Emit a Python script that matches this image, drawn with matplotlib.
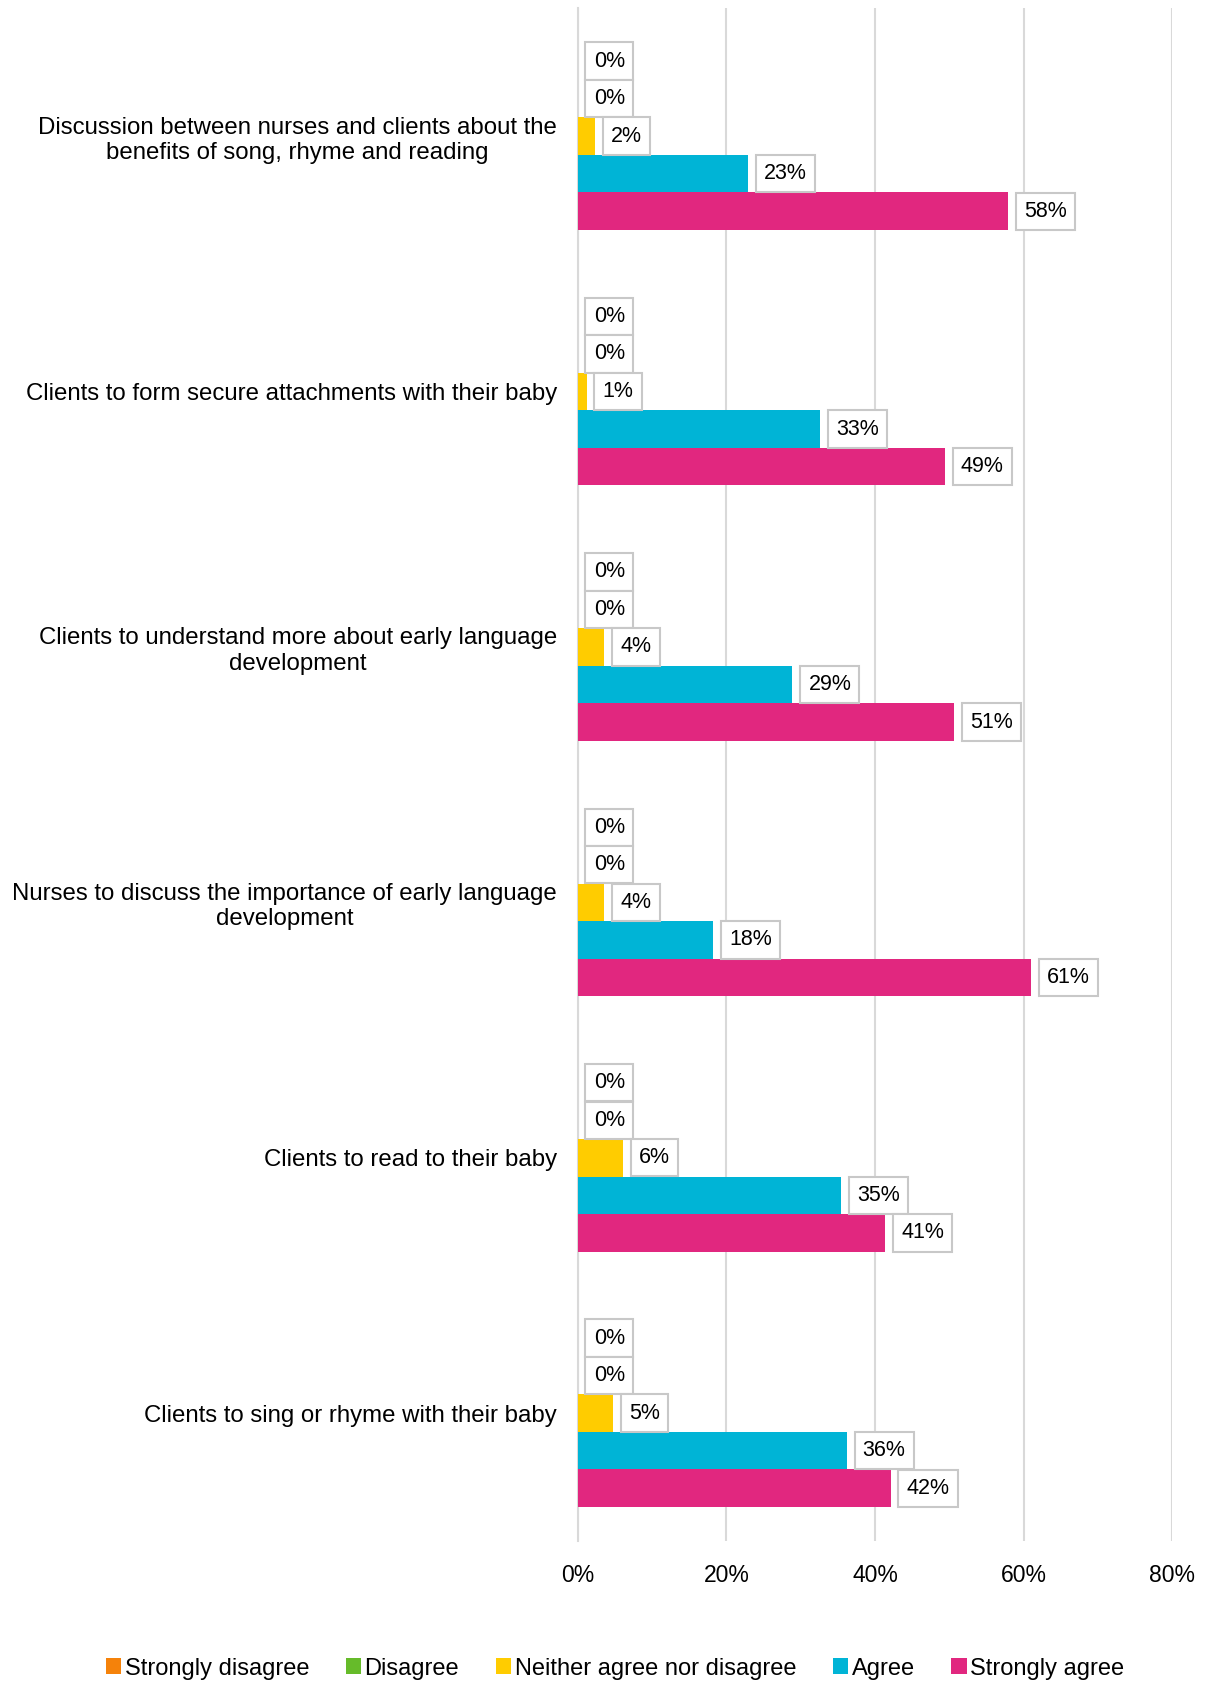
import numpy as np
import matplotlib.pyplot as plt

plt.rcParams['font.family'] = ['Liberation Sans', 'DejaVu Sans']

categories = [
    "Discussion between nurses and clients about the\nbenefits of song, rhyme and reading",
    "Clients to form secure attachments with their baby",
    "Clients to understand more about early language\ndevelopment",
    "Nurses to discuss the importance of early language\ndevelopment",
    "Clients to read to their baby",
    "Clients to sing or rhyme with their baby",
]
series = ["Strongly disagree", "Disagree", "Neither agree nor disagree", "Agree", "Strongly agree"]
colors = ["#F5820A", "#66BB2A", "#FFCC00", "#00B4D6", "#E1277F"]

strongly_disagree = [0, 0, 0, 0, 0, 0]
disagree = [0, 0, 0, 0, 0, 0]
neither = [2.3, 1.2, 3.6, 3.6, 6.1, 4.8]
agree = [22.9, 32.6, 28.9, 18.2, 35.4, 36.2]
strongly_agree = [57.9, 49.4, 50.6, 61.0, 41.4, 42.1]
values = [strongly_disagree, disagree, neither, agree, strongly_agree]

fig = plt.figure(figsize=(12.06, 16.84), dpi=100)
ax = fig.add_axes([0.479, 0.085, 0.493, 0.910])

h = 0.147
y0 = np.arange(len(categories))
for i, (name, vals, c) in enumerate(zip(series, values, colors)):
    ys = y0 + (i - 2) * h
    ax.barh(ys, vals, height=h, color=c, label=name, zorder=3)
    for y, v in zip(ys, vals):
        ax.annotate(f"{v:.0f}%", (v, y), xytext=(11.5, 0), textcoords="offset points",
                    va="center", ha="left", fontsize=15.5, zorder=4,
                    bbox=dict(boxstyle="square,pad=0.38", fc="white", ec="#c8c8c8", lw=1.5))

ax.set_ylim(len(categories) - 0.5, -0.5)
ax.set_xlim(0, 80)
ax.set_xticks([0, 20, 40, 60, 80])
ax.set_xticklabels([f"{t}%" for t in [0, 20, 40, 60, 80]], fontsize=16.5)
ax.set_yticks(y0)
ax.set_yticklabels(categories, fontsize=17.3)
for lab in ax.get_yticklabels():
    lab.set_multialignment("center")
ax.tick_params(axis="y", length=0, pad=15)
ax.tick_params(axis="x", length=0, pad=17)
ax.grid(axis="x", color="#d9d9d9", lw=1.5, zorder=0)
for s in ["top", "right", "bottom"]:
    ax.spines[s].set_visible(False)
ax.spines["left"].set_color("#d9d9d9")
ax.spines["left"].set_linewidth(1.5)

fig.legend(loc="lower center", bbox_to_anchor=(0.51, -0.01), ncol=5, frameon=False,
           fontsize=17, handlelength=0.65, handleheight=0.65, handletextpad=0.15,
           columnspacing=1.55)

fig.savefig("out.png", dpi=100)
